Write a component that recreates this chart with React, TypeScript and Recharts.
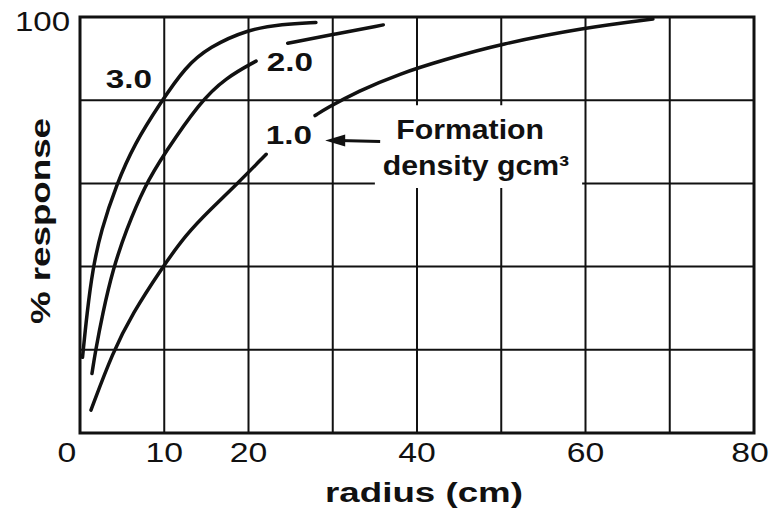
import {
  LineChart,
  Line,
  XAxis,
  YAxis,
  CartesianGrid,
  ReferenceArea,
  ReferenceDot,
} from "recharts";

// axis ticks
const xTicks = [0, 10, 20, 30, 40, 50, 60, 70, 80];
const xTickLabels = ["0", "10", "20", "", "40", "", "60", "", "80"];
const yTicks = [0, 20, 40, 60, 80, 100];
const yTickLabels = ["", "", "", "", "", "100"];

// formation density 3.0 g/cm3
const rho30X = [0.3, 0.83, 1.5, 2.5, 4.3, 6.45, 9.6, 12.5, 15.35, 19.9, 24, 28];
const rho30Y = [18.2, 28.8, 39.3, 48.7, 59.6, 69.5, 79.5, 88, 92.8, 97, 98.3, 98.7];

// formation density 2.0 g/cm3 (broken around its label)
const rho20LowX = [1.42, 1.82, 2.69, 3.9, 5.46, 7.7, 10, 14.2, 17.3, 20.9];
const rho20LowY = [14.3, 19.5, 28.8, 39.3, 48.7, 59.5, 67.1, 79.5, 85.4, 89.4];
const rho20HighX = [24.65, 30.3, 36];
const rho20HighY = [93.7, 95.9, 98.1];

// formation density 1.0 g/cm3 (broken around its label)
const rho10LowX = [1.3, 3.9, 6.25, 9.6, 12.6, 15.5, 18.6, 22.1];
const rho10LowY = [5.5, 19.5, 28.8, 39.3, 47.8, 53.8, 59.8, 67.0];
const rho10HighX = [27.9, 29.2, 33, 38, 43, 49.9, 59.8, 68];
const rho10HighY = [76.3, 78.0, 82.2, 86.4, 89.6, 93.5, 97.4, 99.5];

// curve labels (baseline centre, data units)
const curveLabels = ["3.0", "2.0", "1.0"];
const curveLabelX = [5.8, 24.9, 24.8];
const curveLabelY = [83.0, 87.0, 69.5];

const noteLines = ["Formation", "density gcm³"];
const noteX = [46.3, 47.0];
const noteY = [70.7, 61.9];
// white patch behind the note
const noteBox = { x1: 35, x2: 59.6, y1: 58.9, y2: 78.8 };
const arrowTip = { x: 29.1, y: 70.3 };

const toPoints = (xs: number[], ys: number[]) =>
  xs.map((x, i) => ({ x, y: ys[i] }));

const segments = [
  toPoints(rho30X, rho30Y),
  toPoints(rho20LowX, rho20LowY),
  toPoints(rho20HighX, rho20HighY),
  toPoints(rho10LowX, rho10LowY),
  toPoints(rho10HighX, rho10HighY),
];

const FONT = "'Liberation Sans', Arial, Helvetica, sans-serif";

function StretchText({ x, y, text, size, bold, sx, anchor = "middle", rotate = 0 }: any) {
  return (
    <text
      transform={`translate(${x} ${y}) rotate(${rotate}) scale(${sx} 1)`}
      textAnchor={anchor}
      fontFamily={FONT}
      fontSize={size}
      fontWeight={bold ? 700 : 400}
      fill="#111"
    >
      {text}
    </text>
  );
}

// small nudges so the end labels sit like in the print
const xTickShift: Record<string, number> = { "0": -13, "80": -4 };

const XTick = ({ x, y, payload }: any) => {
  const label = xTickLabels[xTicks.indexOf(payload.value)] ?? "";
  if (!label) return null;
  return (
    <StretchText x={x + (xTickShift[label] || 0)} y={y + 29} text={label} size={27} sx={1.25} />
  );
};

const YTick = ({ x, y, payload }: any) => {
  const label = yTickLabels[yTicks.indexOf(payload.value)] ?? "";
  if (!label) return null;
  return <StretchText x={x} y={y + 14} text={label} size={28} sx={1.18} anchor="end" />;
};

export default function App() {
  return (
    <div style={{ position: "absolute", left: 0, top: 0, background: "#fff" }}>
      <LineChart
        width={772}
        height={509}
        margin={{ top: 17, right: 18, left: 0, bottom: 0 }}
      >
        <CartesianGrid stroke="#111" strokeWidth={2} />
        <XAxis
          type="number"
          dataKey="x"
          domain={[0, 80]}
          ticks={xTicks}
          interval={0}
          axisLine={false}
          tickLine={false}
          tickSize={0}
          tickMargin={0}
          height={76}
          tick={<XTick />}
          label={{
            content: ({ viewBox }: any) => (
              <StretchText
                x={viewBox.x + viewBox.width / 2 + 7}
                y={viewBox.y + 69}
                text="radius (cm)"
                size={27}
                bold
                sx={1.36}
              />
            ),
          }}
        />
        <YAxis
          type="number"
          dataKey="y"
          domain={[0, 100]}
          ticks={yTicks}
          interval={0}
          axisLine={false}
          tickLine={false}
          tickSize={0}
          tickMargin={10}
          width={80}
          tick={<YTick />}
          label={{
            content: ({ viewBox }: any) => (
              <StretchText
                x={50}
                y={viewBox.y + viewBox.height / 2 - 4}
                text="% response"
                size={27}
                bold
                sx={1.36}
                rotate={-90}
              />
            ),
          }}
        />
        <ReferenceArea
          {...noteBox}
          fill="#fff"
          fillOpacity={1}
          stroke="none"
          ifOverflow="visible"
        />
        <ReferenceArea
          x1={0}
          x2={80}
          y1={0}
          y2={100}
          fill="none"
          stroke="#111"
          strokeWidth={3}
          ifOverflow="visible"
        />
        {segments.map((seg, i) => (
          <Line
            key={i}
            data={seg}
            dataKey="y"
            type="basis"
            stroke="#111"
            strokeWidth={3.5}
            strokeLinecap="round"
            dot={false}
            activeDot={false}
            isAnimationActive={false}
          />
        ))}
        {curveLabels.map((t, i) => (
          <ReferenceDot
            key={t}
            x={curveLabelX[i]}
            y={curveLabelY[i]}
            ifOverflow="visible"
            shape={(p: any) => (
              <StretchText x={p.cx} y={p.cy} text={t} size={26} bold sx={1.28} />
            )}
          />
        ))}
        {noteLines.map((t, i) => (
          <ReferenceDot
            key={t}
            x={noteX[i]}
            y={noteY[i]}
            ifOverflow="visible"
            shape={(p: any) => (
              <StretchText x={p.cx} y={p.cy} text={t} size={28} bold sx={1.08} />
            )}
          />
        ))}
        <ReferenceDot
          x={arrowTip.x}
          y={arrowTip.y}
          ifOverflow="visible"
          shape={(p: any) => (
            <g>
              <line
                x1={p.cx + 14}
                y1={p.cy}
                x2={p.cx + 55}
                y2={p.cy + 1}
                stroke="#111"
                strokeWidth={3}
              />
              <polygon
                points={`${p.cx},${p.cy} ${p.cx + 20},${p.cy - 6} ${p.cx + 20},${p.cy + 6}`}
                fill="#111"
              />
            </g>
          )}
        />
      </LineChart>
    </div>
  );
}
